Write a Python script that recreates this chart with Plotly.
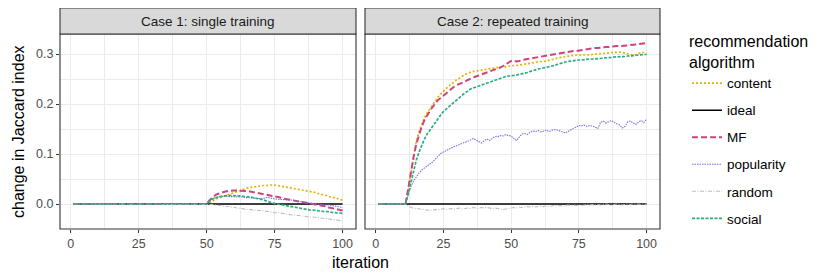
import plotly.graph_objects as go

iterations = list(range(1, 101))
algorithms = ["content", "ideal", "MF", "popularity", "random", "social"]
case_titles = ["Case 1: single training", "Case 2: repeated training"]
x_ticks = [0, 25, 50, 75, 100]
y_ticks = [0.0, 0.1, 0.2, 0.3]
y_tick_labels = ["0.0", "0.1", "0.2", "0.3"]

# ---- Case 1: single training (iterations 1-50 flat at zero) ----
c1_content = [0.0] * 50 + [
    0.003, 0.006, 0.009, 0.011, 0.013, 0.015, 0.017, 0.019, 0.021, 0.023,
    0.025, 0.027, 0.029, 0.030, 0.032, 0.033, 0.034, 0.035, 0.036, 0.036,
    0.037, 0.037, 0.038, 0.038, 0.038, 0.037, 0.037, 0.036, 0.035, 0.034,
    0.033, 0.032, 0.031, 0.030, 0.029, 0.028, 0.027, 0.025, 0.024, 0.023,
    0.021, 0.020, 0.018, 0.017, 0.015, 0.014, 0.012, 0.011, 0.009, 0.008]
c1_ideal = [0.0] * 100
c1_mf = [0.0] * 50 + [
    0.007, 0.013, 0.017, 0.020, 0.022, 0.024, 0.025, 0.026, 0.027, 0.027,
    0.027, 0.027, 0.027, 0.026, 0.026, 0.025, 0.024, 0.023, 0.021, 0.020,
    0.019, 0.018, 0.017, 0.016, 0.015, 0.014, 0.013, 0.011, 0.010, 0.009,
    0.008, 0.007, 0.007, 0.006, 0.005, 0.004, 0.003, 0.002, 0.001, 0.000,
    -0.001, -0.003, -0.004, -0.005, -0.007, -0.008, -0.009, -0.010, -0.012, -0.013]
c1_popularity = [0.0] * 50 + [
    0.006, 0.010, 0.012, 0.014, 0.015, 0.015, 0.016, 0.015, 0.015, 0.015,
    0.015, 0.014, 0.014, 0.013, 0.013, 0.012, 0.012, 0.011, 0.011, 0.010,
    0.011, 0.013, 0.013, 0.011, 0.010, 0.010, 0.009, 0.009, 0.008, 0.008,
    0.008, 0.007, 0.006, 0.005, 0.004, 0.004, 0.003, 0.002, 0.001, 0.000,
    0.000, -0.001, -0.001, -0.002, -0.002, -0.003, -0.004, -0.005, -0.006, -0.007]
c1_random = [0.0] * 50 + [
    -0.000, -0.001, -0.002, -0.002, -0.003, -0.004, -0.004, -0.005, -0.006, -0.007,
    -0.007, -0.008, -0.009, -0.010, -0.011, -0.011, -0.012, -0.012, -0.013, -0.013,
    -0.014, -0.015, -0.015, -0.016, -0.017, -0.018, -0.018, -0.019, -0.020, -0.021,
    -0.021, -0.022, -0.023, -0.023, -0.024, -0.025, -0.025, -0.026, -0.026, -0.027,
    -0.028, -0.028, -0.029, -0.029, -0.030, -0.031, -0.031, -0.032, -0.033, -0.034]
c1_social = [0.0] * 50 + [
    0.005, 0.010, 0.012, 0.014, 0.015, 0.016, 0.017, 0.017, 0.017, 0.017,
    0.017, 0.016, 0.016, 0.015, 0.015, 0.014, 0.013, 0.012, 0.011, 0.010,
    0.008, 0.006, 0.004, 0.003, 0.001, 0.000, -0.001, -0.003, -0.004, -0.005,
    -0.006, -0.007, -0.008, -0.009, -0.010, -0.011, -0.011, -0.012, -0.012, -0.013,
    -0.014, -0.014, -0.015, -0.015, -0.016, -0.017, -0.017, -0.018, -0.018, -0.019]

# ---- Case 2: repeated training (iterations 1-11 flat at zero) ----
c2_content = [0.0] * 11 + [
    0.030, 0.062, 0.095, 0.125, 0.145, 0.160, 0.172, 0.182, 0.190,
    0.200, 0.208, 0.214, 0.220, 0.226, 0.231, 0.236, 0.240, 0.245, 0.249,
    0.252, 0.256, 0.259, 0.262, 0.264, 0.265, 0.266, 0.267, 0.268, 0.269,
    0.270, 0.271, 0.271, 0.272, 0.273, 0.274, 0.274, 0.275, 0.276, 0.276,
    0.277, 0.277, 0.278, 0.279, 0.280, 0.281, 0.282, 0.282, 0.283, 0.284,
    0.285, 0.285, 0.286, 0.287, 0.289, 0.290, 0.292, 0.293, 0.294, 0.295,
    0.296, 0.297, 0.297, 0.298, 0.298, 0.298, 0.297, 0.297, 0.298, 0.299,
    0.300, 0.300, 0.301, 0.301, 0.302, 0.302, 0.303, 0.303, 0.304, 0.304,
    0.303, 0.302, 0.300, 0.299, 0.298, 0.299, 0.301, 0.303, 0.303, 0.302]
c2_ideal = [0.0] * 100
c2_mf = [0.0] * 11 + [
    0.030, 0.065, 0.095, 0.120, 0.140, 0.155, 0.168, 0.178, 0.186,
    0.194, 0.202, 0.208, 0.212, 0.216, 0.221, 0.226, 0.231, 0.235, 0.238,
    0.240, 0.242, 0.245, 0.248, 0.251, 0.253, 0.255, 0.257, 0.259, 0.261,
    0.263, 0.265, 0.266, 0.268, 0.270, 0.273, 0.276, 0.279, 0.283, 0.286,
    0.287, 0.285, 0.286, 0.288, 0.289, 0.290, 0.291, 0.292, 0.293, 0.294,
    0.295, 0.296, 0.297, 0.298, 0.299, 0.300, 0.301, 0.302, 0.303, 0.304,
    0.305, 0.306, 0.306, 0.306, 0.307, 0.308, 0.309, 0.309, 0.310, 0.311,
    0.312, 0.312, 0.313, 0.313, 0.314, 0.314, 0.315, 0.315, 0.316, 0.316,
    0.316, 0.317, 0.317, 0.318, 0.318, 0.319, 0.320, 0.321, 0.322, 0.322]
c2_popularity = [0.0] * 11 + [
    0.018, 0.035, 0.046, 0.055, 0.062, 0.068, 0.072, 0.076, 0.080,
    0.084, 0.090, 0.096, 0.101, 0.104, 0.107, 0.109, 0.112, 0.115, 0.117,
    0.119, 0.121, 0.124, 0.126, 0.128, 0.131, 0.128, 0.124, 0.122, 0.126,
    0.130, 0.127, 0.132, 0.135, 0.134, 0.137, 0.136, 0.139, 0.137, 0.136,
    0.131, 0.127, 0.134, 0.140, 0.141, 0.139, 0.143, 0.146, 0.145, 0.147,
    0.144, 0.146, 0.148, 0.145, 0.147, 0.149, 0.148, 0.146, 0.144, 0.142,
    0.145, 0.148, 0.151, 0.153, 0.157, 0.156, 0.158, 0.155, 0.157, 0.156,
    0.154, 0.151, 0.163, 0.166, 0.162, 0.165, 0.167, 0.163, 0.160, 0.158,
    0.152, 0.155, 0.164, 0.166, 0.162, 0.159, 0.164, 0.167, 0.163, 0.170]
c2_random = [0.0] * 11 + [
    -0.004, -0.007, -0.008, -0.009, -0.010, -0.011, -0.012, -0.012, -0.013,
    -0.012, -0.011, -0.012, -0.010, -0.009, -0.011, -0.010, -0.009, -0.010, -0.009,
    -0.008, -0.010, -0.009, -0.008, -0.009, -0.007, -0.008, -0.009, -0.007, -0.008,
    -0.007, -0.008, -0.009, -0.008, -0.009, -0.010, -0.011, -0.010, -0.009, -0.008,
    -0.007, -0.008, -0.006, -0.007, -0.006, -0.005, -0.006, -0.005, -0.006, -0.005,
    -0.004, -0.005, -0.004, -0.005, -0.004, -0.003, -0.004, -0.003, -0.004, -0.003,
    -0.002, -0.003, -0.002, -0.003, -0.002, -0.003, -0.002, -0.001, -0.002, -0.001,
    -0.002, -0.001, -0.002, -0.001, -0.000, -0.001, -0.002, -0.001, -0.000, -0.001,
    -0.002, -0.001, -0.000, -0.001, -0.000, -0.001, -0.000, -0.001, -0.000, -0.001]
c2_social = [0.0] * 11 + [
    0.020, 0.045, 0.068, 0.088, 0.104, 0.118, 0.130, 0.140, 0.148,
    0.156, 0.164, 0.171, 0.178, 0.185, 0.190, 0.195, 0.200, 0.205, 0.210,
    0.214, 0.218, 0.222, 0.226, 0.230, 0.232, 0.234, 0.236, 0.238, 0.240,
    0.242, 0.244, 0.246, 0.248, 0.250, 0.252, 0.254, 0.255, 0.256, 0.256,
    0.257, 0.258, 0.259, 0.260, 0.261, 0.263, 0.265, 0.267, 0.268, 0.270,
    0.271, 0.272, 0.273, 0.274, 0.275, 0.277, 0.279, 0.281, 0.283, 0.284,
    0.285, 0.286, 0.287, 0.288, 0.288, 0.288, 0.289, 0.289, 0.290, 0.290,
    0.290, 0.291, 0.291, 0.292, 0.292, 0.293, 0.293, 0.294, 0.294, 0.295,
    0.295, 0.295, 0.296, 0.296, 0.296, 0.297, 0.298, 0.299, 0.299, 0.299]

case1 = [c1_content, c1_ideal, c1_mf, c1_popularity, c1_random, c1_social]
case2 = [c2_content, c2_ideal, c2_mf, c2_popularity, c2_random, c2_social]

colors = {"content": "#E2B300", "ideal": "#000000", "MF": "#D1427A",
          "popularity": "#7A6FE6", "random": "#BDBDBD", "social": "#2BAE7C"}
dashes = {"content": "2px,2px", "ideal": "solid", "MF": "6px,3px",
          "popularity": "1.5px,1px", "random": "4px,1.5px,1px,1.5px", "social": "3px,1.5px"}
widths = {"content": 1.7, "ideal": 1.5, "MF": 2.0,
          "popularity": 1.1, "random": 1.1, "social": 1.7}

FONT = "Liberation Sans, Arial, Helvetica, sans-serif"
GRID = "#EBEBEB"

fig = go.Figure()
for ci, series_set in enumerate([case1, case2]):
    xa = "x" if ci == 0 else "x2"
    ya = "y" if ci == 0 else "y2"
    for name, vals in zip(algorithms, series_set):
        assert len(vals) == 100, (name, ci, len(vals))
        fig.add_trace(go.Scatter(
            x=iterations, y=vals, mode="lines", name=name,
            line=dict(color=colors[name], dash=dashes[name], width=widths[name]),
            xaxis=xa, yaxis=ya, showlegend=(ci == 0), legendgroup=name))

axis_common = dict(
    range=[-3.95, 104.95], tickvals=x_ticks, ticks="outside", ticklen=3,
    tickcolor="#333333", tickwidth=1, showgrid=True, gridcolor=GRID, gridwidth=1.1,
    minor=dict(tick0=12.5, dtick=25, showgrid=True, gridcolor=GRID, gridwidth=0.6),
    zeroline=False, showline=False, automargin=False,
    tickfont=dict(family=FONT, size=12.5, color="#4D4D4D"))
yaxis_common = dict(
    range=[-0.05, 0.34], tickvals=y_ticks, ticktext=y_tick_labels, ticks="outside",
    ticklen=3, tickcolor="#333333", tickwidth=1, showgrid=True, gridcolor=GRID,
    gridwidth=1.1,
    minor=dict(tick0=0.05, dtick=0.1, showgrid=True, gridcolor=GRID, gridwidth=0.6),
    zeroline=False, showline=False, automargin=False,
    tickfont=dict(family=FONT, size=12.5, color="#4D4D4D"))

d1 = [0.0, 296 / 600]
d2 = [305 / 600, 1.0]
fig.update_layout(
    xaxis=dict(domain=d1, anchor="y", **axis_common),
    xaxis2=dict(domain=d2, anchor="y2", **axis_common),
    yaxis=dict(domain=[0, 1], anchor="x", **yaxis_common),
    yaxis2=dict(domain=[0, 1], anchor="x2", showticklabels=False, **yaxis_common),
)
fig.update_layout(yaxis2=dict(ticks=""))

strip_top = 1 + 26 / 195
shapes = []
annotations = []
for d, title in zip([d1, d2], case_titles):
    shapes.append(dict(type="rect", xref="paper", yref="paper", x0=d[0], x1=d[1],
                       y0=0, y1=1, line=dict(color="#333333", width=1.1),
                       fillcolor="rgba(0,0,0,0)", layer="above"))
    shapes.append(dict(type="rect", xref="paper", yref="paper", x0=d[0], x1=d[1],
                       y0=1, y1=strip_top, line=dict(color="#333333", width=1.1),
                       fillcolor="#D9D9D9", layer="above"))
    annotations.append(dict(x=(d[0] + d[1]) / 2, y=(1 + strip_top) / 2, xref="paper",
                            yref="paper", text=title, showarrow=False,
                            font=dict(family=FONT, size=13.5, color="#1A1A1A"),
                            xanchor="center", yanchor="middle"))

annotations.append(dict(x=0.5, y=-0.118, xref="paper", yref="paper", text="iteration",
                        showarrow=False, xanchor="center", yanchor="top",
                        font=dict(family=FONT, size=16, color="#000000")))
annotations.append(dict(x=-52 / 600, y=0.5, xref="paper", yref="paper",
                        text="change in Jaccard index", showarrow=False, textangle=-90,
                        xanchor="left", yanchor="middle",
                        font=dict(family=FONT, size=16, color="#000000")))

# The page body adds an 8px offset, so the figure is 8px smaller than the window.
fig.update_layout(
    shapes=shapes, annotations=annotations,
    width=822, height=269,
    margin=dict(l=52, r=170, t=26, b=48, autoexpand=False),
    paper_bgcolor="white", plot_bgcolor="white",
    font=dict(family=FONT),
    legend=dict(
        title=dict(text="recommendation<br>algorithm",
                   font=dict(family=FONT, size=16, color="#000000")),
        font=dict(family=FONT, size=13.5, color="#000000"),
        x=1.045, xanchor="left", y=1.04, yanchor="top",
        tracegroupgap=6.5, itemwidth=30, bgcolor="rgba(0,0,0,0)",
        maxheight=265),
)

fig.write_html("out.html")
